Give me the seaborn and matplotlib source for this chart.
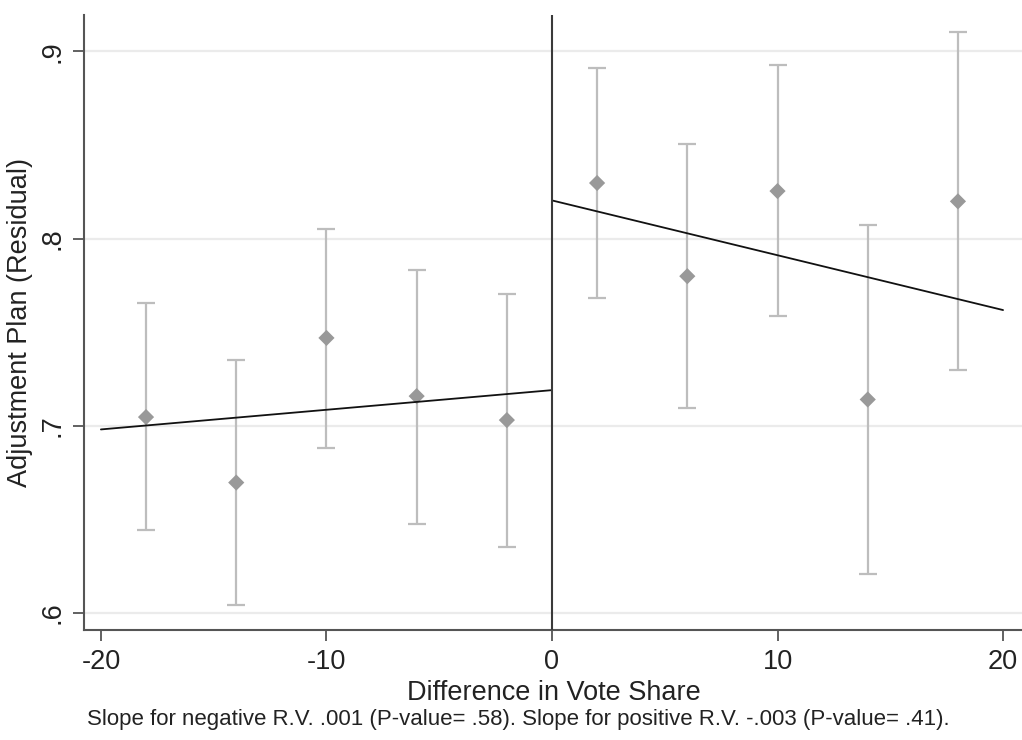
import numpy as np
import pandas as pd
import matplotlib
matplotlib.use("Agg")
import matplotlib.pyplot as plt
import seaborn as sns

# ---- data ----
bin_centers = [-18, -14, -10, -6, -2, 2, 6, 10, 14, 18]
bin_means = [0.7046, 0.6696, 0.7469, 0.7158, 0.7030, 0.8297, 0.7799, 0.8254, 0.7140, 0.8199]
ci_low = [0.6442, 0.6042, 0.6879, 0.6474, 0.6353, 0.7683, 0.7094, 0.7586, 0.6207, 0.7300]
ci_high = [0.7655, 0.7350, 0.8053, 0.7831, 0.7703, 0.8910, 0.8503, 0.8930, 0.8071, 0.9106]

fit_left_x = [-20, 0]
fit_left_y = [0.6980, 0.7190]
fit_right_x = [0, 20]
fit_right_y = [0.8204, 0.7618]

xticks = [-20, -10, 0, 10, 20]
xtick_labels = ["-20", "-10", "0", "10", "20"]
yticks = [0.6, 0.7, 0.8, 0.9]
ytick_labels = [".6", ".7", ".8", ".9"]

x_label = "Difference in Vote Share"
y_label = "Adjustment Plan (Residual)"
note = ("Slope for negative R.V. .001 (P-value= .58). "
        "Slope for positive R.V. -.003 (P-value= .41).")

# ---- styling ----
sns.set_theme(style="white")
plt.rcParams["font.family"] = ["Liberation Sans", "DejaVu Sans"]

W, H = 1022, 740
fig = plt.figure(figsize=(W / 100, H / 100), dpi=100)
ax_left, ax_right, ax_top, ax_bottom = 84, 1022, 15, 630
ax = fig.add_axes([ax_left / W, 1 - ax_bottom / H,
                   (ax_right - ax_left) / W, (ax_bottom - ax_top) / H])

df = pd.DataFrame({"x": bin_centers, "y": bin_means,
                   "lo": ci_low, "hi": ci_high})

ax.errorbar(df["x"], df["y"],
            yerr=[df["y"] - df["lo"], df["hi"] - df["y"]],
            fmt="none", ecolor="#bdbdbd", elinewidth=1.6,
            capsize=6.5, capthick=1.6, zorder=2)
sns.scatterplot(data=df, x="x", y="y", marker="D", s=68,
                color="#999999", edgecolor="none", ax=ax, zorder=3)

fit_df = pd.DataFrame({
    "x": fit_left_x + fit_right_x,
    "y": fit_left_y + fit_right_y,
    "side": ["neg", "neg", "pos", "pos"],
})
sns.lineplot(data=fit_df, x="x", y="y", units="side", estimator=None,
             color="#111111", linewidth=1.3, ax=ax, zorder=4)

ax.axvline(0, color="#3a3a3a", linewidth=1.5, zorder=5)

ax.set_xlim(-20.75, 20.84)
ax.set_ylim(0.5908, 0.9195)
ax.set_xticks(xticks)
ax.set_xticklabels(xtick_labels)
ax.set_yticks(yticks)
ax.set_yticklabels(ytick_labels)

ax.yaxis.grid(True, color="#ebebeb", linewidth=1.6)
ax.xaxis.grid(False)
ax.set_axisbelow(True)

for s in ["top", "right"]:
    ax.spines[s].set_visible(False)
for s in ["left", "bottom"]:
    ax.spines[s].set_color("#555555")
    ax.spines[s].set_linewidth(1.5)

ax.tick_params(axis="both", which="major", bottom=True, left=True,
               direction="out", length=8, width=1.3,
               color="#555555", labelcolor="#222222", labelsize=19.5)
ax.tick_params(axis="x", pad=6)
ax.tick_params(axis="y", pad=5, labelrotation=90)
for lab in ax.get_yticklabels():
    lab.set_va("center")

ax.set_xlabel(x_label, fontsize=19.5, color="#222222")
ax.set_ylabel(y_label, fontsize=19.5, color="#222222")
ax.xaxis.set_label_coords((554 - ax_left) / (ax_right - ax_left),
                          -(680 - ax_bottom) / (ax_bottom - ax_top))
ax.xaxis.label.set_va("top")
ax.yaxis.set_label_coords(-(ax_left - 33) / (ax_right - ax_left), 0.5)

fig.text(518 / W, 1 - 719 / H, note, ha="center", va="center",
         fontsize=16, color="#222222")

fig.savefig("out.png", dpi=100)
